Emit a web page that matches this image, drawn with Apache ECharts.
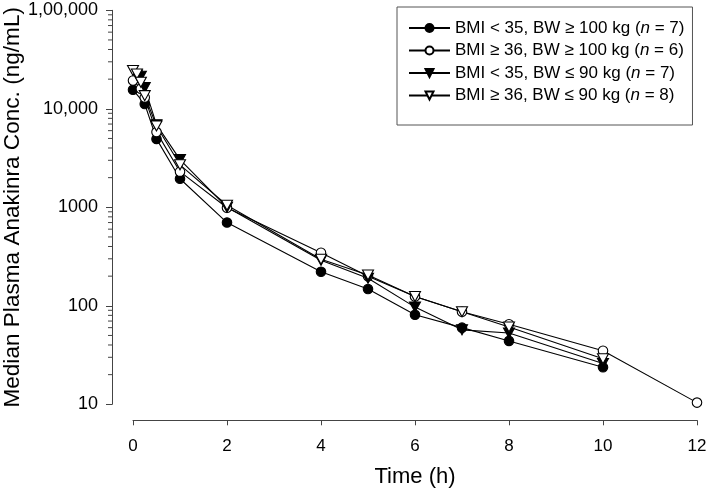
<!DOCTYPE html>
<html><head><meta charset="utf-8">
<script src="https://cdn.jsdelivr.net/npm/echarts@6/dist/echarts.min.js"></script>
<style>html,body{margin:0;padding:0;background:#fff}#c{width:709px;height:494px}</style>
</head><body><div id="c"></div>
<script>
// ---- data ----
const seriesNames = [
  'BMI < 35, BW \u2265 100 kg (n = 7)',
  'BMI \u2265 36, BW \u2265 100 kg (n = 6)',
  'BMI < 35, BW \u2264 90 kg (n = 7)',
  'BMI \u2265 36, BW \u2264 90 kg (n = 8)'
];
const timesA = [0, 0.25, 0.5, 1, 2, 4, 5, 6, 7, 8, 10];
const concA  = [15600, 11200, 4950, 1950, 700, 222, 148, 81, 60, 44, 23.8];
const timesB = [0, 0.167, 0.25, 0.5, 1, 2, 4, 5, 6, 7, 8, 10, 12];
const concB  = [19400, 16000, 13000, 5800, 2300, 990, 346, 200, 124, 87, 65, 35, 10.4];
const timesC = [0.083, 0.167, 0.25, 0.5, 1, 2, 4, 5, 6, 7, 8, 10];
const concC  = [22000, 21400, 16400, 6900, 3050, 1000, 290, 190, 97, 57, 53, 26];
const timesD = [0, 0.083, 0.167, 0.25, 0.5, 1, 2, 4, 5, 6, 7, 8, 10];
const concD  = [24500, 22600, 18600, 13600, 6700, 2700, 1050, 297, 205, 124, 87, 61, 29];
const xTicks = [0, 2, 4, 6, 8, 10, 12];
const yTickLabels = {10: '10', 100: '100', 1000: '1000', 10000: '10,000', 100000: '1,00,000'};
const yMinorTicks = [20,30,40,50,60,70,80,90,200,300,400,500,600,700,800,900,
  2000,3000,4000,5000,6000,7000,8000,9000,20000,30000,40000,50000,60000,70000,80000,90000];

const FONT = '"Liberation Sans", Arial, sans-serif';
const AX = '#444';
const Y_OFF = 21;

function pairs(t, c) { return t.map((x, i) => [x, c[i]]); }
function mk(name, t, c, symbol, fill, rotate) {
  return {
    name, type: 'line', data: pairs(t, c), symbol,
    symbolSize: symbol === 'circle' ? 9.5 : [11, 10],
    symbolRotate: rotate || 0, showSymbol: true,
    lineStyle: {color: '#000', width: 1.1},
    itemStyle: {color: fill, borderColor: '#000', borderWidth: 1.1},
    emphasis: {disabled: true}, z: 3
  };
}

const chart = echarts.init(document.getElementById('c'), null, {renderer: 'canvas'});
chart.setOption({
  animation: false,
  backgroundColor: '#fff',
  grid: {left: 133, right: 12, top: 10.3, bottom: 89.7, containLabel: false, outerBoundsMode: 'none'},
  legend: {
    orient: 'vertical', left: 397, top: 7,
    data: seriesNames,
    backgroundColor: '#fff', borderColor: '#555', borderWidth: 1, borderRadius: 0,
    padding: [12.5, 8, 21, 11], itemGap: 5.5, itemWidth: 41, itemHeight: 10,
    selectedMode: false,
    textStyle: {fontSize: 17, fontFamily: FONT, color: '#000',
      rich: {i: {fontStyle: 'italic', fontSize: 17, fontFamily: FONT, color: '#000'}}},
    formatter: n => n.replace('(n =', '({i|n} =')
  },
  xAxis: {
    type: 'value', min: 0, max: 12, interval: 2, offset: 16,
    axisLine: {show: true, onZero: false, lineStyle: {color: AX, width: 1}},
    axisTick: {show: true, length: 5, lineStyle: {color: AX}},
    splitLine: {show: false},
    axisLabel: {fontSize: 17, fontFamily: FONT, color: '#000', margin: 18,
      formatter: v => xTicks.includes(v) ? String(v) : ''},
    name: 'Time (h)', nameLocation: 'middle', nameGap: 46, nameMoveOverlap: false,
    nameTextStyle: {fontSize: 22, fontFamily: FONT, color: '#000'}
  },
  yAxis: {
    type: 'log', logBase: 10, min: 10, max: 100000, offset: Y_OFF,
    axisLine: {show: true, onZero: false, lineStyle: {color: AX, width: 1}},
    axisTick: {show: true, length: 6, lineStyle: {color: AX}},
    splitLine: {show: false},
    axisLabel: {fontSize: 18, fontFamily: FONT, color: '#000', margin: 14,
      formatter: v => yTickLabels[Math.round(v)] || ''},
    name: 'Median Plasma Anakinra Conc. (ng/mL)', nameLocation: 'middle', nameGap: 88, nameRotate: 90,
    nameMoveOverlap: false,
    nameTextStyle: {fontSize: 22.6, fontFamily: FONT, color: '#000'}
  },
  series: [
    {
      type: 'custom', silent: true, clip: false, z: 1,
      data: yMinorTicks.map(v => [0, v]),
      renderItem: (params, api) => {
        const p = api.coord([0, api.value(1)]);
        const x0 = p[0] - Y_OFF;
        return {type: 'line', shape: {x1: x0 - 4, y1: p[1], x2: x0, y2: p[1]},
          style: {stroke: AX, lineWidth: 1}};
      }
    },
    mk(seriesNames[0], timesA, concA, 'circle', '#000'),
    mk(seriesNames[1], timesB, concB, 'circle', '#fff'),
    mk(seriesNames[2], timesC, concC, 'triangle', '#000', 180),
    mk(seriesNames[3], timesD, concD, 'triangle', '#fff', 180)
  ]
});
</script>
</body></html>
